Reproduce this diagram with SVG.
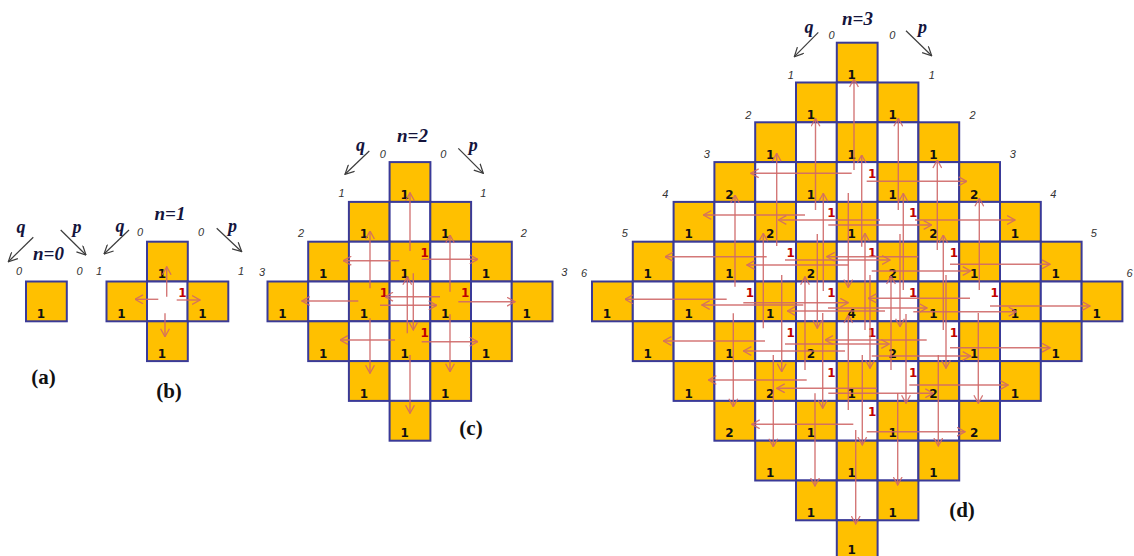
<svg xmlns="http://www.w3.org/2000/svg" width="1134" height="556" viewBox="0 0 1134 556">
<style>
.o{fill:#FFC000;stroke:#3a3a98;stroke-width:2}
.w{fill:#ffffff;stroke:#3a3a98;stroke-width:2}
.n{font-family:"DejaVu Sans",sans-serif;font-weight:bold;font-size:12px;fill:#111;text-anchor:middle}
.r{font-family:"DejaVu Sans",sans-serif;font-weight:bold;font-size:12px;fill:#c00000;text-anchor:middle}
.ix{font-family:"Liberation Sans",sans-serif;font-style:italic;font-size:11px;fill:#333;text-anchor:middle}
.pq{font-family:"Liberation Serif",serif;font-style:italic;font-weight:bold;font-size:18px;fill:#14143c;text-anchor:middle}
.nn{font-family:"Liberation Serif",serif;font-style:italic;font-weight:bold;font-size:19px;fill:#14143c;text-anchor:middle}
.cap{font-family:"Liberation Serif",serif;font-weight:bold;font-size:21px;fill:#111;text-anchor:middle}
.ra line{stroke:#d06a6a;stroke-width:1.4;marker-end:url(#rh);opacity:0.9}
.ka line{stroke:#3c3c3c;stroke-width:1.2;marker-end:url(#kh)}
</style>
<defs>
<rect id="O" class="o" width="40.8" height="39.8"/>
<rect id="W" class="w" width="40.8" height="39.8"/>
<marker id="rh" viewBox="0 0 9 10" refX="8.5" refY="5" markerWidth="9" markerHeight="10" markerUnits="userSpaceOnUse" orient="auto"><path d="M0.5,0.6 L8.5,5 L0.5,9.4" fill="none" stroke="#d06a6a" stroke-width="1.3"/></marker>
<marker id="kh" viewBox="0 0 10 10" refX="9.5" refY="5" markerWidth="10" markerHeight="10" markerUnits="userSpaceOnUse" orient="auto"><path d="M0.5,0.5 L9.5,5 L0.5,9.5" fill="none" stroke="#3c3c3c" stroke-width="1.2"/></marker>
</defs>
<rect width="1134" height="556" fill="#ffffff"/>

<!-- panel a -->
<g id="a-0-0" transform="translate(26 281.5)"><use href="#O"/><text class="n" x="15" y="36.5">1</text></g>

<!-- panel b -->
<g id="b-0-1" transform="translate(147 241.7)"><use href="#O"/><text class="n" x="15" y="36.5">1</text></g>
<g id="b-1-0" transform="translate(106.5 281.5)"><use href="#O"/><text class="n" x="15" y="36.5">1</text></g>
<g id="b-1-1" transform="translate(147 281.5)"><use href="#W"/><text class="r" x="35.5" y="15.6">1</text></g>
<g id="b-1-2" transform="translate(187.5 281.5)"><use href="#O"/><text class="n" x="15" y="36.5">1</text></g>
<g id="b-2-1" transform="translate(147 321.3)"><use href="#O"/><text class="n" x="15" y="36.5">1</text></g>

<!-- panel c -->
<g id="c-0-3" transform="translate(389.6 162.1)"><use href="#O"/><text class="n" x="15" y="36.5">1</text></g>
<g id="c-1-2" transform="translate(348.9 201.9)"><use href="#O"/><text class="n" x="15" y="36.5">1</text></g>
<g id="c-1-3" transform="translate(389.6 201.9)"><use href="#W"/></g>
<g id="c-1-4" transform="translate(430.3 201.9)"><use href="#O"/><text class="n" x="15" y="36.5">1</text></g>
<g id="c-2-1" transform="translate(308.2 241.7)"><use href="#O"/><text class="n" x="15" y="36.5">1</text></g>
<g id="c-2-2" transform="translate(348.9 241.7)"><use href="#W"/></g>
<g id="c-2-3" transform="translate(389.6 241.7)"><use href="#O"/><text class="n" x="15" y="36.5">1</text><text class="r" x="35" y="15.6">1</text></g>
<g id="c-2-4" transform="translate(430.3 241.7)"><use href="#W"/></g>
<g id="c-2-5" transform="translate(471 241.7)"><use href="#O"/><text class="n" x="15" y="36.5">1</text></g>
<g id="c-3-0" transform="translate(267.5 281.5)"><use href="#O"/><text class="n" x="15" y="36.5">1</text></g>
<g id="c-3-1" transform="translate(308.2 281.5)"><use href="#W"/></g>
<g id="c-3-2" transform="translate(348.9 281.5)"><use href="#O"/><text class="n" x="15" y="36.5">1</text><text class="r" x="35" y="15.6">1</text></g>
<g id="c-3-3" transform="translate(389.6 281.5)"><use href="#W"/></g>
<g id="c-3-4" transform="translate(430.3 281.5)"><use href="#O"/><text class="n" x="15" y="36.5">1</text><text class="r" x="35" y="15.6">1</text></g>
<g id="c-3-5" transform="translate(471 281.5)"><use href="#W"/></g>
<g id="c-3-6" transform="translate(511.7 281.5)"><use href="#O"/><text class="n" x="15" y="36.5">1</text></g>
<g id="c-4-1" transform="translate(308.2 321.3)"><use href="#O"/><text class="n" x="15" y="36.5">1</text></g>
<g id="c-4-2" transform="translate(348.9 321.3)"><use href="#W"/></g>
<g id="c-4-3" transform="translate(389.6 321.3)"><use href="#O"/><text class="n" x="15" y="36.5">1</text><text class="r" x="35" y="15.6">1</text></g>
<g id="c-4-4" transform="translate(430.3 321.3)"><use href="#W"/></g>
<g id="c-4-5" transform="translate(471 321.3)"><use href="#O"/><text class="n" x="15" y="36.5">1</text></g>
<g id="c-5-2" transform="translate(348.9 361.1)"><use href="#O"/><text class="n" x="15" y="36.5">1</text></g>
<g id="c-5-3" transform="translate(389.6 361.1)"><use href="#W"/></g>
<g id="c-5-4" transform="translate(430.3 361.1)"><use href="#O"/><text class="n" x="15" y="36.5">1</text></g>
<g id="c-6-3" transform="translate(389.6 400.9)"><use href="#O"/><text class="n" x="15" y="36.5">1</text></g>

<!-- panel d -->
<g id="d-0-6" transform="translate(836.8 42.7)"><use href="#O"/><text class="n" x="15" y="36.5">1</text></g>
<g id="d-1-5" transform="translate(796 82.5)"><use href="#O"/><text class="n" x="15" y="36.5">1</text></g>
<g id="d-1-6" transform="translate(836.8 82.5)"><use href="#W"/></g>
<g id="d-1-7" transform="translate(877.6 82.5)"><use href="#O"/><text class="n" x="15" y="36.5">1</text></g>
<g id="d-2-4" transform="translate(755.2 122.3)"><use href="#O"/><text class="n" x="15" y="36.5">1</text></g>
<g id="d-2-5" transform="translate(796 122.3)"><use href="#W"/></g>
<g id="d-2-6" transform="translate(836.8 122.3)"><use href="#O"/><text class="n" x="15" y="36.5">1</text></g>
<g id="d-2-7" transform="translate(877.6 122.3)"><use href="#W"/></g>
<g id="d-2-8" transform="translate(918.4 122.3)"><use href="#O"/><text class="n" x="15" y="36.5">1</text></g>
<g id="d-3-3" transform="translate(714.4 162.1)"><use href="#O"/><text class="n" x="15" y="36.5">2</text></g>
<g id="d-3-4" transform="translate(755.2 162.1)"><use href="#W"/></g>
<g id="d-3-5" transform="translate(796 162.1)"><use href="#O"/><text class="n" x="15" y="36.5">1</text></g>
<g id="d-3-6" transform="translate(836.8 162.1)"><use href="#W"/><text class="r" x="35.5" y="15.6">1</text></g>
<g id="d-3-7" transform="translate(877.6 162.1)"><use href="#O"/><text class="n" x="15" y="36.5">1</text></g>
<g id="d-3-8" transform="translate(918.4 162.1)"><use href="#W"/></g>
<g id="d-3-9" transform="translate(959.2 162.1)"><use href="#O"/><text class="n" x="15" y="36.5">2</text></g>
<g id="d-4-2" transform="translate(673.6 201.9)"><use href="#O"/><text class="n" x="15" y="36.5">1</text></g>
<g id="d-4-3" transform="translate(714.4 201.9)"><use href="#W"/></g>
<g id="d-4-4" transform="translate(755.2 201.9)"><use href="#O"/><text class="n" x="15" y="36.5">2</text></g>
<g id="d-4-5" transform="translate(796 201.9)"><use href="#W"/><text class="r" x="35.5" y="15.6">1</text></g>
<g id="d-4-6" transform="translate(836.8 201.9)"><use href="#O"/><text class="n" x="15" y="36.5">1</text></g>
<g id="d-4-7" transform="translate(877.6 201.9)"><use href="#W"/><text class="r" x="35.5" y="15.6">1</text></g>
<g id="d-4-8" transform="translate(918.4 201.9)"><use href="#O"/><text class="n" x="15" y="36.5">2</text></g>
<g id="d-4-9" transform="translate(959.2 201.9)"><use href="#W"/></g>
<g id="d-4-10" transform="translate(1000 201.9)"><use href="#O"/><text class="n" x="15" y="36.5">1</text></g>
<g id="d-5-1" transform="translate(632.8 241.7)"><use href="#O"/><text class="n" x="15" y="36.5">1</text></g>
<g id="d-5-2" transform="translate(673.6 241.7)"><use href="#W"/></g>
<g id="d-5-3" transform="translate(714.4 241.7)"><use href="#O"/><text class="n" x="15" y="36.5">1</text></g>
<g id="d-5-4" transform="translate(755.2 241.7)"><use href="#W"/><text class="r" x="35.5" y="15.6">1</text></g>
<g id="d-5-5" transform="translate(796 241.7)"><use href="#O"/><text class="n" x="15" y="36.5">2</text></g>
<g id="d-5-6" transform="translate(836.8 241.7)"><use href="#W"/><text class="r" x="35.5" y="15.6">1</text></g>
<g id="d-5-7" transform="translate(877.6 241.7)"><use href="#O"/><text class="n" x="15" y="36.5">2</text></g>
<g id="d-5-8" transform="translate(918.4 241.7)"><use href="#W"/><text class="r" x="35.5" y="15.6">1</text></g>
<g id="d-5-9" transform="translate(959.2 241.7)"><use href="#O"/><text class="n" x="15" y="36.5">1</text></g>
<g id="d-5-10" transform="translate(1000 241.7)"><use href="#W"/></g>
<g id="d-5-11" transform="translate(1040.8 241.7)"><use href="#O"/><text class="n" x="15" y="36.5">1</text></g>
<g id="d-6-0" transform="translate(592 281.5)"><use href="#O"/><text class="n" x="15" y="36.5">1</text></g>
<g id="d-6-1" transform="translate(632.8 281.5)"><use href="#W"/></g>
<g id="d-6-2" transform="translate(673.6 281.5)"><use href="#O"/><text class="n" x="15" y="36.5">1</text></g>
<g id="d-6-3" transform="translate(714.4 281.5)"><use href="#W"/><text class="r" x="35.5" y="15.6">1</text></g>
<g id="d-6-4" transform="translate(755.2 281.5)"><use href="#O"/><text class="n" x="15" y="36.5">1</text></g>
<g id="d-6-5" transform="translate(796 281.5)"><use href="#W"/><text class="r" x="35.5" y="15.6">1</text></g>
<g id="d-6-6" transform="translate(836.8 281.5)"><use href="#O"/><text class="n" x="15" y="36.5">4</text></g>
<g id="d-6-7" transform="translate(877.6 281.5)"><use href="#W"/><text class="r" x="35.5" y="15.6">1</text></g>
<g id="d-6-8" transform="translate(918.4 281.5)"><use href="#O"/><text class="n" x="15" y="36.5">1</text></g>
<g id="d-6-9" transform="translate(959.2 281.5)"><use href="#W"/><text class="r" x="35.5" y="15.6">1</text></g>
<g id="d-6-10" transform="translate(1000 281.5)"><use href="#O"/><text class="n" x="15" y="36.5">1</text></g>
<g id="d-6-11" transform="translate(1040.8 281.5)"><use href="#W"/></g>
<g id="d-6-12" transform="translate(1081.6 281.5)"><use href="#O"/><text class="n" x="15" y="36.5">1</text></g>
<g id="d-7-1" transform="translate(632.8 321.3)"><use href="#O"/><text class="n" x="15" y="36.5">1</text></g>
<g id="d-7-2" transform="translate(673.6 321.3)"><use href="#W"/></g>
<g id="d-7-3" transform="translate(714.4 321.3)"><use href="#O"/><text class="n" x="15" y="36.5">1</text></g>
<g id="d-7-4" transform="translate(755.2 321.3)"><use href="#W"/><text class="r" x="35.5" y="15.6">1</text></g>
<g id="d-7-5" transform="translate(796 321.3)"><use href="#O"/><text class="n" x="15" y="36.5">2</text></g>
<g id="d-7-6" transform="translate(836.8 321.3)"><use href="#W"/><text class="r" x="35.5" y="15.6">1</text></g>
<g id="d-7-7" transform="translate(877.6 321.3)"><use href="#O"/><text class="n" x="15" y="36.5">2</text></g>
<g id="d-7-8" transform="translate(918.4 321.3)"><use href="#W"/><text class="r" x="35.5" y="15.6">1</text></g>
<g id="d-7-9" transform="translate(959.2 321.3)"><use href="#O"/><text class="n" x="15" y="36.5">1</text></g>
<g id="d-7-10" transform="translate(1000 321.3)"><use href="#W"/></g>
<g id="d-7-11" transform="translate(1040.8 321.3)"><use href="#O"/><text class="n" x="15" y="36.5">1</text></g>
<g id="d-8-2" transform="translate(673.6 361.1)"><use href="#O"/><text class="n" x="15" y="36.5">1</text></g>
<g id="d-8-3" transform="translate(714.4 361.1)"><use href="#W"/></g>
<g id="d-8-4" transform="translate(755.2 361.1)"><use href="#O"/><text class="n" x="15" y="36.5">2</text></g>
<g id="d-8-5" transform="translate(796 361.1)"><use href="#W"/><text class="r" x="35.5" y="15.6">1</text></g>
<g id="d-8-6" transform="translate(836.8 361.1)"><use href="#O"/><text class="n" x="15" y="36.5">1</text></g>
<g id="d-8-7" transform="translate(877.6 361.1)"><use href="#W"/><text class="r" x="35.5" y="15.6">1</text></g>
<g id="d-8-8" transform="translate(918.4 361.1)"><use href="#O"/><text class="n" x="15" y="36.5">2</text></g>
<g id="d-8-9" transform="translate(959.2 361.1)"><use href="#W"/></g>
<g id="d-8-10" transform="translate(1000 361.1)"><use href="#O"/><text class="n" x="15" y="36.5">1</text></g>
<g id="d-9-3" transform="translate(714.4 400.9)"><use href="#O"/><text class="n" x="15" y="36.5">2</text></g>
<g id="d-9-4" transform="translate(755.2 400.9)"><use href="#W"/></g>
<g id="d-9-5" transform="translate(796 400.9)"><use href="#O"/><text class="n" x="15" y="36.5">1</text></g>
<g id="d-9-6" transform="translate(836.8 400.9)"><use href="#W"/><text class="r" x="35.5" y="15.6">1</text></g>
<g id="d-9-7" transform="translate(877.6 400.9)"><use href="#O"/><text class="n" x="15" y="36.5">1</text></g>
<g id="d-9-8" transform="translate(918.4 400.9)"><use href="#W"/></g>
<g id="d-9-9" transform="translate(959.2 400.9)"><use href="#O"/><text class="n" x="15" y="36.5">2</text></g>
<g id="d-10-4" transform="translate(755.2 440.7)"><use href="#O"/><text class="n" x="15" y="36.5">1</text></g>
<g id="d-10-5" transform="translate(796 440.7)"><use href="#W"/></g>
<g id="d-10-6" transform="translate(836.8 440.7)"><use href="#O"/><text class="n" x="15" y="36.5">1</text></g>
<g id="d-10-7" transform="translate(877.6 440.7)"><use href="#W"/></g>
<g id="d-10-8" transform="translate(918.4 440.7)"><use href="#O"/><text class="n" x="15" y="36.5">1</text></g>
<g id="d-11-5" transform="translate(796 480.5)"><use href="#O"/><text class="n" x="15" y="36.5">1</text></g>
<g id="d-11-6" transform="translate(836.8 480.5)"><use href="#W"/></g>
<g id="d-11-7" transform="translate(877.6 480.5)"><use href="#O"/><text class="n" x="15" y="36.5">1</text></g>
<g id="d-12-6" transform="translate(836.8 520.3)"><use href="#O"/><text class="n" x="15" y="33.5">1</text></g>

<!-- index labels -->
<g id="labels-a" class="ix">
<text x="19" y="275">0</text><text x="79.5" y="275">0</text>
</g>
<g id="labels-b" class="ix">
<text x="140" y="236">0</text><text x="201" y="236">0</text>
<text x="99" y="275">1</text><text x="241" y="275">1</text>
</g>
<g id="labels-c" class="ix">
<text x="382.7" y="157.5">0</text><text x="443.3" y="157.5">0</text>
<text x="341.5" y="196.7">1</text><text x="483.3" y="196.7">1</text>
<text x="301" y="236.7">2</text><text x="523.7" y="236.7">2</text>
<text x="262" y="276">3</text><text x="564.2" y="276">3</text>
</g>
<g id="labels-d" class="ix">
<text x="831.5" y="39.3">0</text><text x="892.2" y="39.3">0</text>
<text x="790.8" y="79">1</text><text x="931.7" y="79">1</text>
<text x="748.3" y="118.5">2</text><text x="972.5" y="118.5">2</text>
<text x="706.7" y="158.3">3</text><text x="1012.8" y="158.3">3</text>
<text x="665.3" y="197.5">4</text><text x="1053.3" y="197.5">4</text>
<text x="624.7" y="237.3">5</text><text x="1093.8" y="237.3">5</text>
<text x="584" y="277">6</text><text x="1129.5" y="277">6</text>
</g>

<!-- titles, p q, captions -->
<g id="titles">
<text class="nn" x="48.5" y="259.5">n=0</text>
<text class="nn" x="170" y="219.5">n=1</text>
<text class="nn" x="412.5" y="141.5">n=2</text>
<text class="nn" x="857.5" y="24.5">n=3</text>
<text class="pq" x="21" y="233">q</text><text class="pq" x="77" y="233">p</text>
<text class="pq" x="120" y="232">q</text><text class="pq" x="232.5" y="232">p</text>
<text class="pq" x="360.5" y="151">q</text><text class="pq" x="473.3" y="151">p</text>
<text class="pq" x="809" y="33">q</text><text class="pq" x="922.5" y="33">p</text>
<text class="cap" x="43.5" y="384">(a)</text>
<text class="cap" x="169" y="398">(b)</text>
<text class="cap" x="471" y="435">(c)</text>
<text class="cap" x="962" y="517">(d)</text>
</g>

<g id="connectors">
<g class="ka">
<line x1="33.3" y1="237.3" x2="8.3" y2="261.7"/>
<line x1="60.7" y1="230" x2="86" y2="255"/>
<line x1="129" y1="230" x2="104" y2="254"/>
<line x1="216.7" y1="228.3" x2="241.7" y2="251.7"/>
<line x1="369.3" y1="151" x2="345" y2="174.3"/>
<line x1="458.3" y1="148.3" x2="483.3" y2="173.3"/>
<line x1="818.3" y1="32.3" x2="794.3" y2="56.7"/>
<line x1="906" y1="30.7" x2="931.7" y2="55.7"/>
</g>
<g class="ra">
<!-- b -->
<line x1="166.7" y1="296.7" x2="166.7" y2="266.7"/>
<line x1="165" y1="313.3" x2="165" y2="336.7"/>
<line x1="158.3" y1="299.3" x2="135" y2="299.3"/>
<line x1="176.7" y1="300" x2="200" y2="300"/>
<!-- c -->
<line x1="410" y1="251" x2="410" y2="192.7"/>
<line x1="413.3" y1="273.3" x2="413.3" y2="330"/>
<line x1="399.3" y1="260.7" x2="343.3" y2="260.7"/>
<line x1="421.7" y1="259.3" x2="477.7" y2="259.3"/>
<line x1="370" y1="288.3" x2="370" y2="231"/>
<line x1="370" y1="318.3" x2="370" y2="373.3"/>
<line x1="358.3" y1="301" x2="301.7" y2="301"/>
<line x1="380" y1="305.3" x2="436.7" y2="305.3"/>
<line x1="450" y1="291.7" x2="450" y2="235"/>
<line x1="450" y1="314.3" x2="450" y2="371.7"/>
<line x1="440" y1="296.7" x2="385" y2="296.7"/>
<line x1="458.3" y1="301.7" x2="515" y2="301.7"/>
<line x1="407.3" y1="333.3" x2="407.3" y2="276.7"/>
<line x1="410" y1="355" x2="410" y2="413.3"/>
<line x1="395" y1="340" x2="340" y2="340"/>
<line x1="421.7" y1="341.7" x2="477.7" y2="341.7"/>
<!-- d -->
<line x1="854" y1="170" x2="854" y2="79"/>
<line x1="848.3" y1="193" x2="848.3" y2="287.5"/>
<line x1="851.7" y1="173.3" x2="750.7" y2="173.3"/>
<line x1="866.7" y1="181.3" x2="966.7" y2="181.3"/>
<line x1="815.5" y1="210" x2="815.5" y2="118.3"/>
<line x1="817.3" y1="234" x2="817.3" y2="328.3"/>
<line x1="805" y1="215" x2="703.3" y2="215"/>
<line x1="828.3" y1="225" x2="931.7" y2="225"/>
<line x1="898.3" y1="210" x2="898.3" y2="118.3"/>
<line x1="900" y1="234" x2="900" y2="326.7"/>
<line x1="880" y1="220" x2="778.3" y2="220"/>
<line x1="915" y1="220" x2="1015" y2="220"/>
<line x1="776.7" y1="246" x2="776.7" y2="153.3"/>
<line x1="781.7" y1="275" x2="781.7" y2="371.7"/>
<line x1="766.7" y1="256.7" x2="665" y2="256.7"/>
<line x1="785" y1="260" x2="890" y2="260"/>
<line x1="861.7" y1="246.7" x2="861.7" y2="155"/>
<line x1="870" y1="275" x2="870" y2="368.3"/>
<line x1="848.3" y1="265" x2="746.7" y2="265"/>
<line x1="871.7" y1="271" x2="970.7" y2="271"/>
<line x1="937.3" y1="250" x2="937.3" y2="160"/>
<line x1="946" y1="275" x2="946" y2="368.3"/>
<line x1="918.3" y1="256.7" x2="826.7" y2="256.7"/>
<line x1="950" y1="264.3" x2="1050" y2="264.3"/>
<line x1="735" y1="286.7" x2="735" y2="195"/>
<line x1="733.3" y1="313.3" x2="733.3" y2="406.7"/>
<line x1="726.7" y1="299.3" x2="625" y2="299.3"/>
<line x1="743.3" y1="302.7" x2="848.3" y2="302.7"/>
<line x1="823.3" y1="291" x2="823.3" y2="193.3"/>
<line x1="822.7" y1="313" x2="822.7" y2="408.3"/>
<line x1="803.3" y1="305" x2="701.7" y2="305"/>
<line x1="828" y1="308" x2="927" y2="308"/>
<line x1="903.3" y1="290" x2="903.3" y2="193.3"/>
<line x1="906" y1="314" x2="906" y2="403.3"/>
<line x1="885" y1="311" x2="787.3" y2="311"/>
<line x1="913.3" y1="311.7" x2="1016.7" y2="311.7"/>
<line x1="979.3" y1="290" x2="979.3" y2="198.3"/>
<line x1="978.3" y1="313" x2="978.3" y2="403.3"/>
<line x1="970" y1="298.3" x2="868.3" y2="298.3"/>
<line x1="990" y1="306" x2="1090" y2="306"/>
<line x1="763.3" y1="328.3" x2="763.3" y2="233.3"/>
<line x1="773.3" y1="355" x2="773.3" y2="446.7"/>
<line x1="765" y1="341" x2="663.3" y2="341"/>
<line x1="785" y1="344" x2="889.3" y2="344"/>
<line x1="865" y1="330" x2="865" y2="233.3"/>
<line x1="862.3" y1="355" x2="862.3" y2="445"/>
<line x1="845" y1="351" x2="743.3" y2="351"/>
<line x1="871.7" y1="356" x2="970.7" y2="356"/>
<line x1="943.3" y1="330" x2="943.3" y2="235"/>
<line x1="938.3" y1="355" x2="938.3" y2="446"/>
<line x1="926.7" y1="340" x2="825" y2="340"/>
<line x1="950" y1="347.7" x2="1050" y2="347.7"/>
<line x1="805" y1="370" x2="805" y2="276.7"/>
<line x1="815" y1="393.3" x2="815" y2="486"/>
<line x1="806.7" y1="380" x2="708.3" y2="380"/>
<line x1="828.3" y1="393.3" x2="933.3" y2="393.3"/>
<line x1="891" y1="370" x2="891" y2="276"/>
<line x1="897.7" y1="393" x2="897.7" y2="485"/>
<line x1="876.7" y1="388.3" x2="776.7" y2="388.3"/>
<line x1="909.3" y1="385" x2="1008.3" y2="385"/>
<line x1="848.3" y1="410" x2="848.3" y2="315"/>
<line x1="855.7" y1="430" x2="855.7" y2="524"/>
<line x1="853.3" y1="424.3" x2="751.7" y2="424.3"/>
<line x1="866.7" y1="431.7" x2="965" y2="431.7"/>
</g>
</g>
</svg>
